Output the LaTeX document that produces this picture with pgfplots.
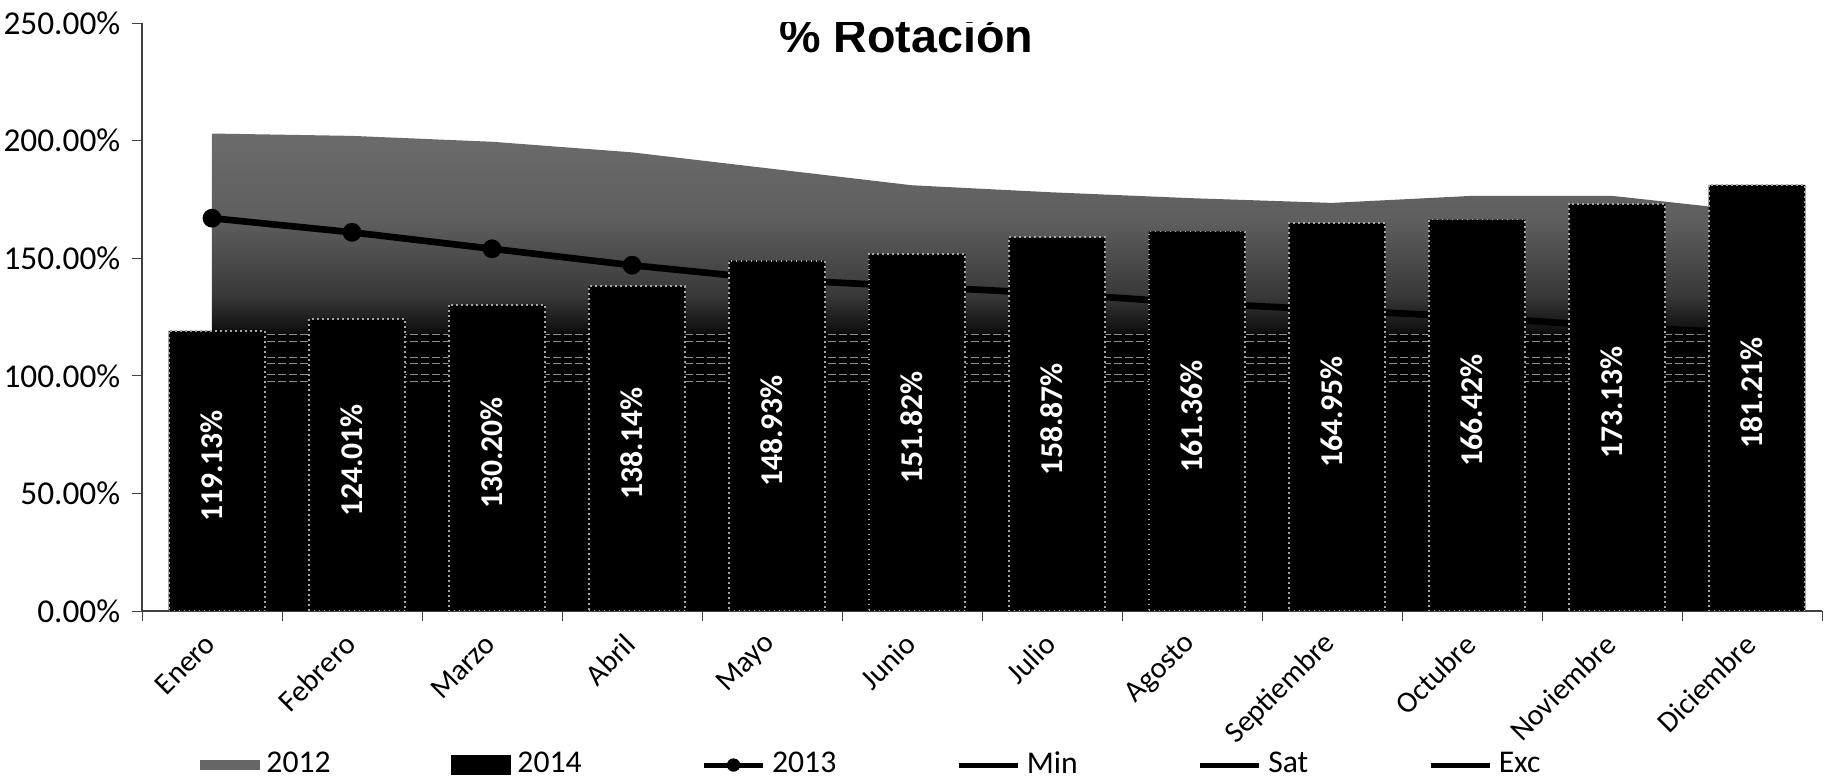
\documentclass[border=0pt]{standalone}
\usepackage{pgfplots}
\pgfplotsset{compat=1.18}
\usepackage{pgfplotstable}
\usepackage{fontspec}
\setmainfont{Carlito}
\newfontfamily\titlefont{Liberation Sans}

% area fill: dark grey at the top, fading into black towards the base
\pgfdeclareverticalshading{areafade}{100bp}{%
  color(0bp)=(black); color(53bp)=(black); color(58bp)=(black!78);
  color(66bp)=(black!63); color(75bp)=(black!58); color(100bp)=(black!58)}

% monthly rotation, in percent
\pgfplotstableread{
x  v2014   v2012  v2013  min   sat    exc
0  119.13  203.0  167    99    106.5  116
1  124.01  202.0  161    99    106.5  116
2  130.20  199.5  154    99    106.5  116
3  138.14  195.0  147    99    106.5  116
4  148.93  188.0  141    99    106.5  116
5  151.82  181.0  138    99    106.5  116
6  158.87  178.0  135    99    106.5  116
7  161.36  175.5  131    99    106.5  116
8  164.95  173.5  128    99    106.5  116
9  166.42  176.5  125    99    106.5  116
10 173.13  176.5  121    99    106.5  116
11 181.21  170.0  118    99    106.5  116
}\rotacion

\begin{document}
\begin{tikzpicture}
\useasboundingbox (0,0) rectangle (547.8pt,234.6pt);
\begin{axis}[
  at={(42.6pt,51.3pt)}, anchor=south west,
  scale only axis, width=504pt, height=176.4pt,
  xmin=-0.5, xmax=11.5, ymin=0, ymax=250,
  axis x line*=bottom, axis y line*=left,
  axis line style={-, draw=black!75},
  every outer x axis line/.append style={-},
  every outer y axis line/.append style={-},
  ytick={0,50,...,250},
  yticklabels={0.00\%,50.00\%,100.00\%,150.00\%,200.00\%,250.00\%},
  xtick={0,...,11},
  xticklabels={Enero,Febrero,Marzo,Abril,Mayo,Junio,Julio,Agosto,Septiembre,Octubre,Noviembre,Diciembre},
  minor xtick={-0.5,0.5,...,11.5},
  major x tick style={draw=none},
  minor x tick style={draw=black!75},
  y tick style={draw=black!75},
  tick align=outside,
  major tick length=3pt, minor tick length=3pt,
  yticklabel style={font=\fontsize{10}{12}\selectfont},
  xticklabel style={font=\fontsize{9}{11}\selectfont,
    xshift=2pt, yshift=-3pt, rotate=45, anchor=east},
  legend columns=6,
  legend style={draw=none, fill=none, at={(0.4354,-0.262)}, anchor=center,
    font=\fontsize{9.5}{11}\selectfont,
    /tikz/every even column/.append style={column sep=34pt}},
]
% 2012 as a shaded area
\addplot[draw=none, shading=areafade, forget plot]
  table[x=x, y=v2012] {\rotacion} \closedcycle;
% reference levels
\addplot[black, line width=1.6pt, forget plot,
  preaction={draw, black!45, densely dotted, line width=2.3pt}]
  table[x=x, y=min] {\rotacion};
\addplot[black, line width=1.6pt, forget plot,
  preaction={draw, black!45, densely dotted, line width=2.3pt}]
  table[x=x, y=sat] {\rotacion};
\addplot[black, line width=1.6pt, forget plot,
  preaction={draw, black!45, densely dotted, line width=2.3pt}]
  table[x=x, y=exc] {\rotacion};
% 2013 line
\addplot[black, line width=2pt, mark=*, mark size=1.8pt, forget plot]
  table[x=x, y=v2013] {\rotacion};
% 2014 columns
\addplot[ybar, bar width=0.69, bar shift=1.5pt, fill=black, draw=black!35,
  densely dotted, line width=0.5pt, forget plot]
  table[x=x, y=v2014] {\rotacion};
% value labels in the middle of each column
\addplot[draw=none, forget plot,
  point meta=\thisrow{v2014},
  nodes near coords={\pgfmathprintnumber[assume math mode=true, fixed, fixed zerofill, precision=2]{\pgfplotspointmeta}\%},
  nodes near coords style={rotate=90, anchor=center, text=white, xshift=1.5pt,
    font=\bfseries\fontsize{9.5}{11}\selectfont}]
  table[x=x, y expr=\thisrow{v2014}/2] {\rotacion};

\node[font=\titlefont\bfseries\fontsize{14}{16}\selectfont]
  at (rel axis cs:0.455,0.978) {\% Rotación};

% legend
\addlegendimage{legend image code/.code={\fill[black!60] (0cm,-0.05cm) rectangle (0.62cm,0.05cm);}}
\addlegendentry{2012}
\addlegendimage{legend image code/.code={\fill[black] (0cm,-0.095cm) rectangle (0.62cm,0.095cm);}}
\addlegendentry{2014}
\addlegendimage{legend image code/.code={\draw[black, line width=1.5pt] (0cm,0cm) -- (0.62cm,0cm); \fill[black] (0.31cm,0cm) circle (1.8pt);}}
\addlegendentry{2013}
\addlegendimage{legend image code/.code={\draw[black, line width=1.5pt] (0cm,0cm) -- (0.62cm,0cm);}}
\addlegendentry{Min}
\addlegendimage{legend image code/.code={\draw[black, line width=1.5pt] (0cm,0cm) -- (0.62cm,0cm);}}
\addlegendentry{Sat}
\addlegendimage{legend image code/.code={\draw[black, line width=1.5pt] (0cm,0cm) -- (0.62cm,0cm);}}
\addlegendentry{Exc}
\end{axis}
\end{tikzpicture}
\end{document}
